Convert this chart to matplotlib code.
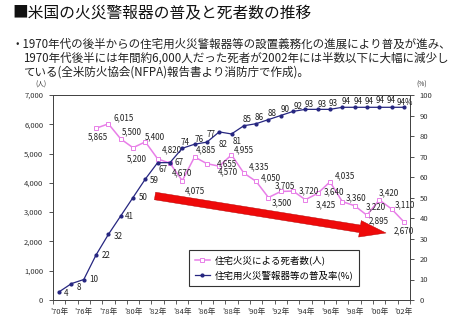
import matplotlib
matplotlib.use("Agg")
import matplotlib.pyplot as plt

plt.rcParams['font.family'] = ['Noto Sans CJK JP', 'DejaVu Sans']

# 年 (1970, 73?, 76 以降毎年)
years = [1970, 1973, 1976, 1977, 1978, 1979, 1980, 1981, 1982, 1983, 1984,
         1985, 1986, 1987, 1988, 1989, 1990, 1991, 1992, 1993, 1994, 1995,
         1996, 1997, 1998, 1999, 2000, 2001, 2002]

# 住宅用火災警報器等の普及率(%)
rate = [4, 8, 10, 22, 32, 41, 50, 59, 67, 67, 74, 76, 77, 82, 81, 85, 86,
        88, 90, 92, 93, 93, 93, 94, 94, 94, 94, 94, 94]

# 住宅火災による死者数(人), 1977年から
death_years = years[3:]
deaths = [5865, 6015, 5500, 5200, 5400, 4820, 4670, 4075, 4885, 4655, 4570,
          4955, 4335, 4050, 3500, 3705, 3720, 3425, 3640, 4035, 3360, 3220,
          2895, 3420, 3110, 2670]

# ラベルの位置ずらし (px, 下向き正)
death_offsets = [(2, 9), (15, -6), (11, -7), (4, 11), (10, -5), (14, -9),
                 (12, 10), (13, 10), (11, -7), (20, 0), (9, 6), (12, -5),
                 (15, -6), (15, -4), (13, 5), (4, -6), (16, 0), (20, 5),
                 (16, -2), (15, -6), (14, -4), (21, 1), (12, 6), (10, -7),
                 (13, -4), (0, 9)]
rate_offsets = [(7, 2), (7, 4), (10, 0), (10, 1), (10, 2), (9, 1), (10, 0),
                (9, 1), (5, 7), (9, 0), (3, -6), (5, -5), (4, -8), (4, 13),
                (6, 8), (3, -6), (3, -6), (4, -6), (4, -6), (5, -5), (4, -5),
                (5, -5), (3, -6), (4, -6), (4, -6), (2, -6), (1, -7), (0, -7),
                (1, -5)]

W, H = 460, 325
fig = plt.figure(figsize=(W / 100, H / 100), dpi=100)
fig.patch.set_facecolor('white')


def fx(px):
    return px / W


def fy(py):
    return 1 - py / H


fig.text(fx(12), fy(14), '■米国の火災警報器の普及と死者数の推移', fontsize=11.3,
         va='center', ha='left', color='#111111')
lines = ['・1970年代の後半からの住宅用火災警報器等の設置義務化の進展により普及が進み、',
         '1970年代後半には年間約6,000人だった死者が2002年には半数以下に大幅に減少し',
         'ている(全米防火協会(NFPA)報告書より消防庁で作成)。']
fig.text(fx(12), fy(44), lines[0], fontsize=8.3, va='center', color='#222222')
fig.text(fx(23), fy(58), lines[1], fontsize=8.3, va='center', color='#222222')
fig.text(fx(23), fy(72), lines[2], fontsize=8.3, va='center', color='#222222')

ax = fig.add_axes([fx(53), fy(300), fx(410) - fx(53), fy(95) - fy(300)])
ax2 = ax.twinx()

xi = list(range(len(years)))
dx = [years.index(y) for y in death_years]

pink = '#e87ee8'
navy = '#262680'

l1, = ax.plot(dx, deaths, color=pink, lw=1.1, marker='s', ms=2.8,
              mfc='white', mec=pink, mew=0.7, label='住宅火災による死者数(人)')
l2, = ax2.plot(xi, rate, color=navy, lw=0.9, marker='o', ms=2.0,
               mfc=navy, mec=navy, label='住宅用火災警報器等の普及率(%)')

k = 0.72
for x, v, (ox, oy) in zip(dx, deaths, death_offsets):
    ax.annotate(f'{v:,}', (x, v), xytext=(ox * k, -oy * k),
                textcoords='offset points', ha='center', va='center',
                fontsize=5.8, color='#222222')
for i, (x, v, (ox, oy)) in enumerate(zip(xi, rate, rate_offsets)):
    s = f'{v}%' if i == len(rate) - 1 else f'{v}'
    ax2.annotate(s, (x, v), xytext=(ox * k, -oy * k),
                 textcoords='offset points', ha='center', va='center',
                 fontsize=5.8, color='#222222')

ax.set_xlim(-0.5, len(years) - 0.5)
ax.set_ylim(0, 7000)
ax2.set_ylim(0, 100)

ax.set_yticks(range(0, 7001, 1000))
ax.set_yticklabels([f'{v:,}' for v in range(0, 7001, 1000)])
ax2.set_yticks(range(0, 101, 10))

ax.set_xticks(xi[::2])
ax.set_xticklabels([f"'{y % 100:02d}年" for y in years[::2]])
ax.set_xticks([i - 0.5 for i in range(len(years) + 1)], minor=True)
ax.tick_params(axis='x', which='major', length=0, pad=6, labelsize=5.5,
               colors='#333333')
ax.tick_params(axis='x', which='minor', length=3, width=0.6, color='#444444')
ax.tick_params(axis='y', length=3, width=0.6, pad=4, labelsize=5.5,
               colors='#333333')
ax2.tick_params(axis='y', length=3, width=0.6, pad=4, labelsize=5.5,
                colors='#333333')
for a in (ax, ax2):
    for sp in a.spines.values():
        sp.set_color('#444444')
        sp.set_linewidth(0.7)

fig.text(fx(41), fy(85), '(人)', fontsize=4.8, ha='center', va='center',
         color='#333333')
fig.text(fx(422), fy(85), '(%)', fontsize=4.8, ha='center', va='center',
         color='#333333')

# 減少傾向の矢印
ax2.annotate('', xy=(fx(386), fy(233)), xycoords='figure fraction',
             xytext=(fx(155), fy(196)), textcoords='figure fraction',
             arrowprops=dict(arrowstyle='simple,head_length=1.9,head_width=1.2,tail_width=0.55',
                             mutation_scale=10, color='#ee0a0a', lw=0.3,
                             ec='#b00000', shrinkA=0, shrinkB=0))

leg = ax2.legend(handles=[l1, l2], loc='upper left',
                 bbox_to_anchor=((189 - 53) / 357, (300 - 250) / 205),
                 borderaxespad=0, fontsize=6.8, handlelength=1.6,
                 handletextpad=0.5, labelspacing=0.5, borderpad=0.6,
                 fancybox=False, framealpha=1)
leg.get_frame().set_edgecolor('#333333')
leg.get_frame().set_linewidth(0.8)

fig.savefig('out.png', dpi=100)
